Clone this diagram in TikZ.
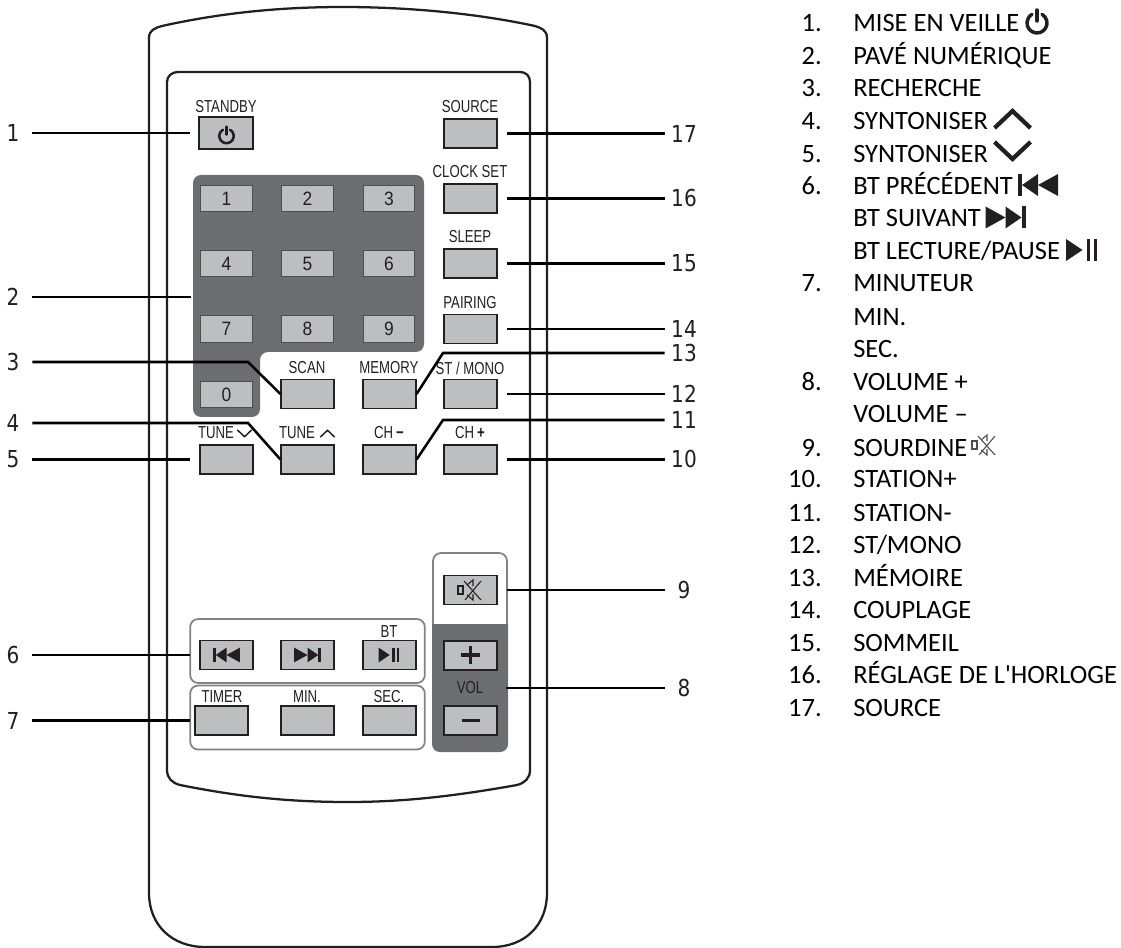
\documentclass[tikz,border=0pt]{standalone}
\usepackage{fontspec}
\usepackage{xcolor}
\newfontfamily\listfont{Carlito}
\newfontfamily\keyfont[FakeStretch=0.76]{Liberation Sans}
\newfontfamily\digitfont[FakeStretch=0.9]{Liberation Sans}
\newfontfamily\calloutfont[FakeStretch=0.86]{DejaVu Sans}
\definecolor{panel}{RGB}{109,110,113}
\definecolor{keygrey}{RGB}{188,190,192}
\definecolor{rim}{RGB}{128,130,133}
\definecolor{ink}{RGB}{35,31,32}
\tikzset{
  casing/.style={draw=ink,line width=1.7pt},
  keybox/.style={draw=ink,fill=keygrey,line width=1.1pt,inner sep=0pt,minimum width=39.5pt,minimum height=21.5pt},
  numkey/.style={keybox,draw=ink!80,line width=0.6pt,minimum width=38.5pt,minimum height=20pt,text=ink,font=\digitfont\fontsize{14.5}{16}\selectfont},
  keyname/.style={inner sep=0pt,text=ink,font=\keyfont\fontsize{13}{15}\selectfont},
  framebox/.style={draw=rim,line width=1.3pt,rounded corners=6pt,inner sep=0pt},
  callout/.style={inner sep=0pt,minimum width=28.5pt,text=ink,font=\calloutfont\fontsize{17.5}{19}\selectfont},
  leader/.style={draw=black,line width=1.9pt},
  itemnum/.style={anchor=base east,inner sep=0pt,font=\listfont\fontsize{19.85}{22}\selectfont},
  itemtxt/.style={anchor=base west,inner sep=0pt,font=\listfont\fontsize{19.85}{22}\selectfont},
  powersym/.pic={\draw[line cap=round] (-60:10) arc (-60:240:10);\draw[line cap=round] (0,-13) -- (0,-2);},
  chevup/.pic={\draw (-18,9) -- (0,-8) -- (18,9);},
  prevsym/.pic={\fill (-20,-11) rectangle (-16,11);\fill (-16,0) -- (0,-11) -- (0,11) -- cycle;\fill (0,0) -- (20,-11) -- (20,11) -- cycle;},
  nextsym/.pic={\fill (20,-11) rectangle (16,11);\fill (16,0) -- (0,-11) -- (0,11) -- cycle;\fill (0,0) -- (-20,-11) -- (-20,11) -- cycle;},
  playsym/.pic={\fill (-15.5,-11) -- (1,0) -- (-15.5,11) -- cycle;\fill (5,-11) rectangle (8.5,11);\fill (12,-11) rectangle (15.5,11);},
  mutesym/.pic={\draw[line width=0.8pt] (-12,-4) rectangle (-7,4);
    \draw[line width=0.8pt] (-6,-9) -- (11,10);\draw[line width=0.8pt] (11,-9) -- (-5,10);
    \draw[line width=0.8pt] (-3,-5) -- (3,-10) -- (3,-4);\draw[line width=0.8pt] (-3,5) -- (3,10) -- (3,4);}
}
\begin{document}
\begin{tikzpicture}[x=0.75pt,y=-0.75pt]
\useasboundingbox (0,0) rectangle (1121,948);
% casing
\draw[casing] (149,38) .. controls (149,30) and (155,28) .. (162,26)
  .. controls (225,12) and (285,7) .. (343,7) .. controls (400,7) and (470,12) .. (535,26)
  .. controls (541,28) and (547,30) .. (547,38) -- (547,893)
  .. controls (547,925) and (525,947) .. (492,947) -- (205,947)
  .. controls (172,947) and (149,925) .. (149,893) -- cycle;
\draw[casing] (167,82) .. controls (167,76) and (172,72) .. (178,72) -- (520,72)
  .. controls (526,72) and (530,76) .. (530,82) -- (530,770)
  .. controls (530,778) and (525,783) .. (517,785) .. controls (450,797) and (400,802) .. (348,802)
  .. controls (290,802) and (240,797) .. (180,785) .. controls (172,783) and (167,778) .. (167,770) -- cycle;
% grey areas
\fill[panel,rounded corners=6pt] (193,175) -- (424,175) -- (424,352) -- (260,352) -- (260,417) -- (193,417) -- cycle;
\node[framebox,minimum width=176pt,minimum height=48pt] (btframe) at (307.5,651) {};
\node[framebox,minimum width=176pt,minimum height=48pt] (timerframe) at (307.5,717.5) {};
\node[framebox,minimum width=55.5pt,minimum height=148.5pt] (volframe) at (470,652) {};
\fill[panel] (432,624) -- (508,624) [rounded corners=6pt] -- (508,752) -- (432,752) [sharp corners] -- cycle;
% buttons
\node[keybox,minimum width=40.5pt,minimum height=24pt] (stby) at (226,133) {};
\node[keybox] (source) at (470.5,133.5) {};
\node[keybox] (clock) at (470.5,198.5) {};
\node[keybox] (sleep) at (470.5,263.5) {};
\node[keybox] (pairing) at (470.5,329) {};
\node[keybox] (stmono) at (470.5,394) {};
\node[keybox] (chplus) at (470.5,459.5) {};
\node[keybox] (scan) at (307.5,394) {};
\node[keybox] (memory) at (389.5,394) {};
\node[keybox] (tunedn) at (226.5,459.5) {};
\node[keybox] (tuneup) at (307.5,459.5) {};
\node[keybox] (chminus) at (389.5,459.5) {};
\node[keybox] (prev) at (226.5,655) {};
\node[keybox] (next) at (307.5,655) {};
\node[keybox] (play) at (389.5,655) {};
\node[keybox] (timer) at (221.5,720.5) {};
\node[keybox] (min) at (307.5,720.5) {};
\node[keybox] (sec) at (389.5,720.5) {};
\node[keybox] (mute) at (470.5,590) {};
\node[keybox] (volup) at (470.5,655.5) {};
\node[keybox] (voldn) at (470.5,720.5) {};
\node[numkey] (k1) at (226.5,198.5) {1};
\node[numkey] (k2) at (307.5,198.5) {2};
\node[numkey] (k3) at (389,198.5) {3};
\node[numkey] (k4) at (226.5,263.5) {4};
\node[numkey] (k5) at (307.5,263.5) {5};
\node[numkey] (k6) at (389,263.5) {6};
\node[numkey] (k7) at (226.5,329) {7};
\node[numkey] (k8) at (307.5,329) {8};
\node[numkey] (k9) at (389,329) {9};
\node[numkey] (k0) at (226.5,394.5) {0};
% button names
\node[keyname] (nstby) at (226,107) {STANDBY};
\node[keyname] (nsource) at (470,107) {SOURCE};
\node[keyname] (nclock) at (470,172) {CLOCK SET};
\node[keyname] (nsleep) at (470,237) {SLEEP};
\node[keyname] (npairing) at (470,303) {PAIRING};
\node[keyname] (nstmono) at (470,368) {ST / MONO};
\node[keyname] (nmemory) at (389,368) {MEMORY};
\node[keyname] (nscan) at (307,368) {SCAN};
\node[keyname] (ntunedn) at (216,433) {TUNE};
\node[keyname] (ntuneup) at (297,433) {TUNE};
\node[keyname] (nchminus) at (389,433) {CH\,\textbf{\char"2212}};
\node[keyname] (nchplus) at (470,433) {CH\,\textbf{+}};
\node[keyname] (nbt) at (389,632) {BT};
\node[keyname] (ntimer) at (222,697) {TIMER};
\node[keyname] (nmin) at (307,697) {MIN.};
\node[keyname] (nsec) at (389,697) {SEC.};
\node[keyname] (nvol) at (470,688) {VOL};
% glyphs on the buttons
\pic[scale=.72,line width=1.9pt,ink] at (226.5,136) {powersym};
\pic[scale=.4,yscale=-1,line width=1.1pt,ink] at (244.5,433.5) {chevup};
\pic[scale=.4,line width=1.1pt,ink] at (327.5,433.5) {chevup};
\pic[scale=.67,ink] at (226.5,655) {prevsym};
\pic[scale=.67,ink] at (307.5,655) {nextsym};
\pic[scale=.67,ink] at (389,655) {playsym};
\pic[ink] at (470,590) {mutesym};
\draw[ink,line width=2.6pt] (461,655) -- (480,655);
\draw[ink,line width=2.6pt] (470.5,646) -- (470.5,664);
\draw[ink,line width=2.6pt] (462,720.5) -- (480,720.5);
% callouts
\node[callout] (l1) at (13,133) {1};
\node[callout] (l2) at (13,297) {2};
\node[callout] (l3) at (13,362) {3};
\node[callout] (l4) at (13,423) {4};
\node[callout] (l5) at (13,459.5) {5};
\node[callout] (l6) at (13,655) {6};
\node[callout] (l7) at (13,720.5) {7};
\node[callout] (r17) at (684,133.5) {17};
\node[callout] (r16) at (684,198.5) {16};
\node[callout] (r15) at (684,263.5) {15};
\node[callout] (r14) at (684,329) {14};
\node[callout] (r13) at (684,353) {13};
\node[callout] (r12) at (684,394) {12};
\node[callout] (r11) at (684,420) {11};
\node[callout] (r10) at (684,459.5) {10};
\node[callout] (r9) at (684,590) {9};
\node[callout] (r8) at (684,688) {8};
\coordinate (padedge) at (191,297);
\coordinate (volfront) at (506,688);
\coordinate (bend3) at (248,362);
\coordinate (bend4) at (248,423);
\coordinate (bend13) at (443,353);
\coordinate (bend11) at (443,420);
\draw[leader,shorten >=6pt] (l1.east) -- (stby.west);
\draw[leader] (l2.east) -- (padedge);
\draw[leader] (l3.east) -- (bend3) -- (scan.west);
\draw[leader] (l4.east) -- (bend4) -- (tuneup.west);
\draw[leader,shorten >=6.75pt] (l5.east) -- (tunedn.west);
\draw[leader,shorten >=6.75pt] (l6.east) -- (prev.west);
\draw[leader,shorten >=3pt] (l7.east) -- (timer.west);
\draw[leader,shorten <=6.75pt] (source.east) -- (r17.west);
\draw[leader,shorten <=6.75pt] (clock.east) -- (r16.west);
\draw[leader,shorten <=6.75pt] (sleep.east) -- (r15.west);
\draw[leader,shorten <=6.75pt] (pairing.east) -- (r14.west);
\draw[leader] (memory.east) -- (bend13) -- (r13.west);
\draw[leader,shorten <=6.75pt] (stmono.east) -- (r12.west);
\draw[leader] (chminus.east) -- (bend11) -- (r11.west);
\draw[leader,shorten <=6.75pt] (chplus.east) -- (r10.west);
\draw[leader,shorten <=6.75pt] (mute.east) -- (r9.west);
\draw[leader] (volfront) -- (r8.west);
% list on the right
\foreach \yy/\num/\txt in {32/1./MISE EN VEILLE,65/2./PAVÉ NUMÉRIQUE,97/3./RECHERCHE,130/4./SYNTONISER,
  163/5./SYNTONISER,195/6./BT PRÉCÉDENT,292/7./MINUTEUR,391/8./VOLUME +,456/9./SOURDINE,
  488/10./STATION+,521/11./STATION-,553/12./{ST/MONO},586/13./MÉMOIRE,618/14./COUPLAGE,
  651/15./SOMMEIL,683/16./RÉGLAGE DE L'HORLOGE,716/17./SOURCE}{
  \node[itemnum] (num\yy) at (822,\yy) {\num};
  \node[itemtxt] (txt\yy) at (853,\yy) {\txt};
}
\foreach \yy/\txt in {227/BT SUIVANT,260/{BT LECTURE/PAUSE},326/MIN.,358/SEC.,423/VOLUME –}{
  \node[itemtxt] (txt\yy) at (853,\yy) {\txt};
}
\pic[line width=2.6pt,ink] at (1037,23) {powersym};
\pic[line width=3.2pt,ink] at (1012.5,119) {chevup};
\pic[yscale=-1,line width=3.2pt,ink] at (1012.5,151) {chevup};
\pic[ink] at (1038,185) {prevsym};
\pic[ink] at (1005.5,217.5) {nextsym};
\pic[ink] at (1081.5,250) {playsym};
\pic[ink!80] at (984,445) {mutesym};
\end{tikzpicture}
\end{document}
